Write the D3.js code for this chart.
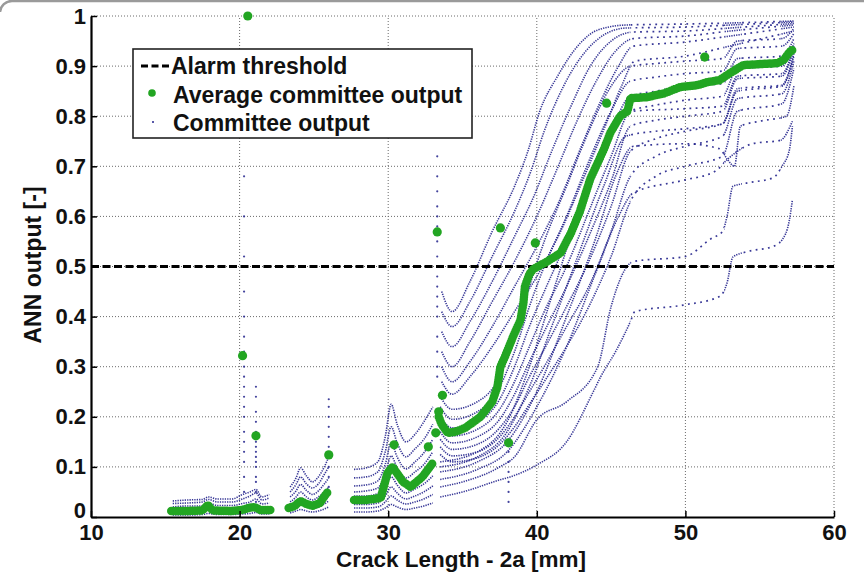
<!DOCTYPE html>
<html>
<head>
<meta charset="utf-8">
<script src="https://cdn.jsdelivr.net/npm/d3@7"></script>
<style>
  body { margin: 0; background: #fff; }
  svg text { font-family: "Liberation Sans", Arial, Helvetica, sans-serif; font-weight: bold; fill: #111; }
</style>
</head>
<body>
<svg id="chart" width="864" height="572"></svg>
<script>
// ---- axis ticks ----
const xTicks = [10, 20, 30, 40, 50, 60];
const yTicks = [0, 0.1, 0.2, 0.3, 0.4, 0.5, 0.6, 0.7, 0.8, 0.9, 1];
const yTickLabels = ["0", "0.1", "0.2", "0.3", "0.4", "0.5", "0.6", "0.7", "0.8", "0.9", "1"];
const alarmThreshold = 0.5;

// ---- committee output, first crack-length block (shared x, one row per network) ----
const xA = [15.5, 16.5, 17.5, 17.9, 18.5, 19.5, 20.2, 20.7, 21.1, 21.5, 22.0];
const committeeA = [
  [0.004, 0.004, 0.005, 0.007, 0.005, 0.005, 0.006, 0.007, 0.009, 0.006, 0.006],
  [0.009, 0.009, 0.010, 0.014, 0.010, 0.010, 0.012, 0.013, 0.016, 0.011, 0.012],
  [0.014, 0.015, 0.016, 0.021, 0.016, 0.016, 0.019, 0.021, 0.025, 0.018, 0.020],
  [0.020, 0.022, 0.022, 0.028, 0.023, 0.023, 0.027, 0.030, 0.036, 0.026, 0.028],
  [0.027, 0.028, 0.030, 0.035, 0.030, 0.030, 0.036, 0.042, 0.048, 0.034, 0.038],
  [0.032, 0.034, 0.035, 0.040, 0.036, 0.036, 0.045, 0.050, 0.055, 0.040, 0.045]
];

// ---- second block ----
const xB = [23.4, 23.8, 24.1, 24.5, 24.9, 25.3, 25.7, 26.0];
const committeeB = [
  [0.008, 0.012, 0.015, 0.012, 0.010, 0.012, 0.016, 0.020],
  [0.015, 0.020, 0.026, 0.020, 0.017, 0.020, 0.026, 0.032],
  [0.022, 0.030, 0.038, 0.030, 0.025, 0.030, 0.038, 0.046],
  [0.030, 0.040, 0.050, 0.040, 0.034, 0.040, 0.050, 0.060],
  [0.040, 0.052, 0.065, 0.053, 0.045, 0.052, 0.066, 0.078],
  [0.050, 0.065, 0.080, 0.066, 0.058, 0.066, 0.085, 0.100],
  [0.060, 0.078, 0.098, 0.082, 0.070, 0.080, 0.100, 0.120]
];

// ---- third block ----
const xC = [27.7, 28.5, 29.3, 29.8, 30.2, 30.6, 31.2, 31.8, 32.4, 33.0];
const committeeC = [
  [0.010, 0.010, 0.012, 0.018, 0.025, 0.020, 0.015, 0.018, 0.022, 0.028],
  [0.018, 0.018, 0.020, 0.030, 0.042, 0.034, 0.026, 0.030, 0.036, 0.045],
  [0.025, 0.025, 0.028, 0.042, 0.060, 0.048, 0.036, 0.042, 0.050, 0.062],
  [0.033, 0.033, 0.037, 0.056, 0.080, 0.064, 0.048, 0.056, 0.066, 0.082],
  [0.042, 0.042, 0.047, 0.070, 0.100, 0.080, 0.062, 0.072, 0.085, 0.105],
  [0.050, 0.052, 0.058, 0.086, 0.122, 0.098, 0.078, 0.090, 0.105, 0.130],
  [0.062, 0.064, 0.072, 0.105, 0.148, 0.120, 0.096, 0.110, 0.128, 0.155],
  [0.078, 0.080, 0.090, 0.130, 0.180, 0.148, 0.120, 0.136, 0.155, 0.185],
  [0.095, 0.098, 0.110, 0.160, 0.225, 0.185, 0.150, 0.165, 0.190, 0.220]
];

// ---- main block: each network's output as [crack length, output] ----
const committeeD = [
  [[33.6,0.45],[34.3,0.41],[35.5,0.47],[37,0.57],[38.5,0.66],[39.4,0.73],[40.2,0.81],[41.4,0.88],[42.9,0.945],[44.1,0.972],[46,0.982],[50,0.984],[53,0.986],[57.3,0.99]],
  [[33.6,0.41],[34.3,0.38],[35.5,0.43],[37,0.52],[38.5,0.61],[39.6,0.69],[40.5,0.77],[41.8,0.86],[43.3,0.93],[44.5,0.962],[46,0.976],[50,0.978],[53,0.982],[57.3,0.988]],
  [[33.6,0.37],[34.3,0.34],[35.5,0.39],[37,0.47],[38.5,0.56],[39.8,0.64],[41,0.73],[42.3,0.82],[43.6,0.9],[45,0.95],[46.5,0.968],[50,0.97],[53,0.976],[57.3,0.985]],
  [[33.6,0.33],[34.3,0.30],[35.5,0.35],[37,0.43],[38.5,0.51],[40,0.60],[41.3,0.69],[42.7,0.79],[44,0.87],[45.3,0.93],[46.5,0.955],[50,0.96],[53,0.97],[57.3,0.982]],
  [[33.6,0.30],[34.3,0.27],[35.5,0.31],[37,0.38],[38.5,0.46],[40,0.54],[41.5,0.63],[43,0.74],[44.3,0.83],[45.5,0.9],[46.5,0.94],[50,0.948],[53,0.96],[57.3,0.978]],
  [[33.6,0.27],[34.3,0.245],[35.5,0.28],[37,0.34],[38.5,0.41],[40,0.48],[41.6,0.57],[43.2,0.68],[44.6,0.78],[45.7,0.86],[46.6,0.91],[50,0.92],[53,0.94],[57.3,0.97]],
  [[33.5,0.24],[34.3,0.215],[36,0.23],[37.5,0.28],[38.5,0.36],[39.5,0.46],[40.5,0.55],[42,0.66],[43.5,0.77],[45,0.86],[46.3,0.9],[48,0.905],[50,0.91],[52.5,0.915],[53.5,0.95],[56.5,0.955],[57.3,0.975]],
  [[33.5,0.22],[34.3,0.195],[36,0.21],[37.5,0.26],[38.5,0.33],[39.5,0.42],[40.5,0.5],[42,0.6],[43.5,0.71],[45,0.81],[46.3,0.87],[48,0.878],[50,0.885],[52.5,0.89],[53.5,0.935],[56.5,0.94],[57.3,0.965]],
  [[33.5,0.20],[34.3,0.178],[36,0.19],[37.5,0.235],[38.5,0.3],[39.5,0.38],[40.5,0.45],[42,0.55],[43.5,0.66],[45,0.77],[46.3,0.84],[48,0.85],[50,0.86],[52.5,0.865],[53.5,0.915],[56.5,0.92],[57.3,0.955]],
  [[33.5,0.185],[34.3,0.162],[36,0.175],[37.5,0.215],[38.5,0.27],[39.5,0.34],[40.5,0.41],[42,0.5],[43.5,0.61],[45,0.72],[46.3,0.81],[48,0.822],[50,0.832],[52.5,0.84],[53.5,0.895],[56.5,0.9],[57.3,0.945]],
  [[33.5,0.17],[34.3,0.148],[36,0.16],[37.5,0.195],[38.5,0.245],[39.5,0.31],[40.5,0.37],[42,0.46],[43.5,0.56],[45,0.67],[46.3,0.78],[48,0.792],[50,0.8],[52.5,0.81],[53.5,0.875],[56.5,0.88],[57.3,0.935]],
  [[33.5,0.155],[34.3,0.135],[36,0.145],[37.5,0.178],[38.5,0.22],[39.5,0.28],[40.5,0.335],[42,0.42],[43.5,0.51],[45,0.62],[46.3,0.73],[48,0.755],[50,0.77],[52.5,0.785],[53.5,0.855],[56.5,0.862],[57.3,0.925]],
  [[33.5,0.14],[34.3,0.122],[36,0.13],[37.5,0.16],[38.5,0.2],[39.5,0.25],[40.5,0.3],[42,0.38],[43.5,0.46],[45,0.57],[46.3,0.68],[48,0.72],[50,0.74],[52.5,0.76],[53.5,0.835],[56.5,0.845],[57.3,0.91]],
  [[33.5,0.125],[34.3,0.11],[36,0.118],[37.5,0.145],[38.5,0.18],[39.5,0.225],[40.5,0.27],[42,0.34],[43.5,0.42],[45,0.52],[46.3,0.63],[48,0.68],[50,0.7],[52.5,0.72],[53.5,0.81],[56.5,0.825],[57.3,0.895]],
  [[33.5,0.04],[35,0.05],[37.5,0.074],[38.2,0.08],[40,0.104],[42,0.15],[43.8,0.25],[44.3,0.28],[45.3,0.33],[46.3,0.39],[46.6,0.41],[49.85,0.423],[52.3,0.44],[52.8,0.467],[53.2,0.519],[54.2,0.53],[55.9,0.54],[56.5,0.553],[57,0.593],[57.2,0.633]],
  [[33.5,0.06],[35,0.07],[37.5,0.1],[38.5,0.12],[40,0.194],[42,0.23],[44.1,0.3],[45,0.42],[46.5,0.51],[50,0.52],[51.7,0.555],[52.5,0.57],[52.8,0.6],[53.2,0.66],[54.2,0.667],[55.9,0.677],[56.5,0.7],[57,0.733],[57.2,0.78]],
  [[33.5,0.075],[36,0.095],[38,0.13],[40,0.22],[42,0.34],[44,0.49],[45.5,0.6],[46.5,0.647],[49.85,0.672],[52,0.69],[52.8,0.713],[53.5,0.73],[54.5,0.745],[56.4,0.752],[57.2,0.79]],
  [[33.5,0.09],[36,0.11],[38,0.15],[40,0.25],[42,0.4],[44,0.56],[45.3,0.68],[46.5,0.74],[50,0.745],[52.3,0.735],[52.8,0.715],[53.3,0.7],[53.7,0.78],[55,0.79],[56.8,0.8],[57.3,0.86]],
  [[33.5,0.1],[36,0.12],[38,0.17],[39.5,0.26],[41,0.38],[43,0.54],[44.5,0.66],[46,0.76],[48,0.77],[50,0.775],[52.5,0.785],[53.5,0.85],[56.5,0.86],[57.3,0.92]],
  [[33.5,0.11],[36,0.13],[38,0.19],[39.5,0.3],[41,0.44],[42.5,0.58],[44,0.7],[45.5,0.79],[46.5,0.81],[50,0.815],[52.5,0.82],[53.5,0.88],[56.5,0.885],[57.3,0.94]]
];

// ---- outputs scattered at single crack lengths ----
const spikeX = [20.3, 21.1, 26.0, 33.3, 38.1];
const spikeY = [
  [0.05, 0.08, 0.11, 0.13, 0.15, 0.17, 0.2, 0.22, 0.24, 0.26, 0.28, 0.3, 0.33, 0.36, 0.4, 0.45, 0.52, 0.6, 0.68],
  [0.03, 0.05, 0.07, 0.08, 0.1, 0.11, 0.12, 0.13, 0.14, 0.15, 0.17, 0.19, 0.21, 0.24, 0.26],
  [0.06, 0.08, 0.1, 0.12, 0.14, 0.16, 0.18, 0.2, 0.22, 0.235],
  [0.28, 0.3, 0.33, 0.36, 0.4, 0.42, 0.44, 0.46, 0.48, 0.5, 0.52, 0.55, 0.58, 0.6, 0.62, 0.65, 0.68, 0.72, 0.76],
  [0.03, 0.05, 0.07, 0.09, 0.11, 0.13, 0.155]
];

// ---- average committee output ----
const avgA = [[15.4,0.012],[16.5,0.012],[17.5,0.013],[17.85,0.024],[18.2,0.013],[19.5,0.012],[20.2,0.014],[20.6,0.018],[21.0,0.02],[21.4,0.014],[22.2,0.014]];
const avgB = [[23.3,0.018],[23.7,0.022],[24.1,0.032],[24.5,0.026],[24.9,0.022],[25.4,0.028],[25.8,0.045],[26.0,0.052]];
const avgC = [[27.7,0.034],[28.5,0.034],[29.5,0.038],[29.95,0.088],[30.3,0.1],[31.0,0.07],[31.5,0.06],[32.3,0.08],[33.05,0.11]];
const avgD = [[33.4,0.2],[33.6,0.185],[34.0,0.168],[34.5,0.17],[35.2,0.178],[36.2,0.2],[37.0,0.23],[37.35,0.26],[37.55,0.3],[37.9,0.323],[38.4,0.36],[38.9,0.393],[39.1,0.427],[39.2,0.46],[39.5,0.485],[39.77,0.495],[40.7,0.51],[41.6,0.527],[42.3,0.567],[42.9,0.61],[43.6,0.675],[44.5,0.733],[44.95,0.767],[45.6,0.8],[46.1,0.81],[46.3,0.836],[47.4,0.838],[48.5,0.845],[49.65,0.858],[50.8,0.862],[51.5,0.868],[52.3,0.872],[53.0,0.886],[53.9,0.902],[55.0,0.904],[56.2,0.906],[56.6,0.912],[57.0,0.928],[57.2,0.932]];
const avgOutliers = [[20.55,1.0],[20.2,0.322],[21.1,0.162],[26.0,0.124],[30.4,0.144],[32.7,0.14],[33.2,0.168],[33.4,0.21],[33.65,0.243],[33.3,0.569],[37.55,0.577],[39.9,0.547],[38.1,0.148],[44.7,0.826],[51.3,0.918]];

// ---- drawing ----
const svg = d3.select("#chart");
const W = 864, H = 572;
const x = d3.scaleLinear().domain([10, 60]).range([91, 834]);
const y = d3.scaleLinear().domain([0, 1]).range([517, 16]);

const GREEN = "#22a522";
const NAVY = "#22228c";

// frame edge along the top
svg.append("path")
  .attr("d", `M0,12 A12,12 0 0 1 12,1 L${W},1`)
  .attr("fill", "none").attr("stroke", "#9a9a9a").attr("stroke-width", 2.5);

// dotted grid
const grid = svg.append("g").attr("stroke", "#6a6a6a").attr("stroke-width", 1).attr("stroke-dasharray", "1 2");
grid.selectAll("line.gx").data(xTicks.slice(1)).join("line")
  .attr("x1", d => x(d)).attr("x2", d => x(d)).attr("y1", y(0)).attr("y2", y(1));
grid.selectAll("line.gy").data(yTicks.slice(1)).join("line")
  .attr("x1", x(10)).attr("x2", x(60)).attr("y1", d => y(d)).attr("y2", d => y(d));

// clip regions: where the samples are tightly packed vs. spread out along x
const denseZones = [[10, 46.3], [52.6, 53.8], [56.4, 60]];
const sparseZones = [[46.3, 52.6], [53.8, 56.4]];
const defs = svg.append("defs");
[["dense", denseZones], ["sparse", sparseZones]].forEach(([id, zones]) => {
  defs.append("clipPath").attr("id", id).selectAll("rect").data(zones).join("rect")
    .attr("x", d => x(d[0])).attr("width", d => x(d[1]) - x(d[0]))
    .attr("y", 0).attr("height", H);
});

const line = d3.line().x(d => x(d[0])).y(d => y(d[1])).curve(d3.curveMonotoneX);

const committeeCurves = []
  .concat(committeeA.map(r => r.map((v, i) => [xA[i], v])))
  .concat(committeeB.map(r => r.map((v, i) => [xB[i], v])))
  .concat(committeeC.map(r => r.map((v, i) => [xC[i], v])))
  .concat(committeeD);

[["dense", "1.3 1.1", 1.6], ["sparse", "1.8 4.4", 1.7]].forEach(([clip, dash, sw]) => {
  svg.append("g").attr("clip-path", `url(#${clip})`)
    .selectAll("path").data(committeeCurves).join("path")
    .attr("d", line)
    .attr("fill", "none").attr("stroke", NAVY).attr("stroke-width", sw)
    .attr("stroke-dasharray", dash).attr("opacity", 0.9);
});

// single-crack-length scatter
const spikePts = spikeX.flatMap((sx, i) => spikeY[i].map(v => [sx, v]));
svg.append("g").selectAll("circle").data(spikePts).join("circle")
  .attr("cx", d => x(d[0])).attr("cy", d => y(d[1])).attr("r", 1.1)
  .attr("fill", NAVY).attr("opacity", 0.85);

// alarm threshold
svg.append("line")
  .attr("x1", x(10)).attr("x2", x(60)).attr("y1", y(alarmThreshold)).attr("y2", y(alarmThreshold))
  .attr("stroke", "#000").attr("stroke-width", 3).attr("stroke-dasharray", "8 3.5");

// average committee output: closely spaced markers along each block
svg.append("g").selectAll("path").data([avgA, avgB, avgC, avgD]).join("path")
  .attr("d", d3.line().x(d => x(d[0])).y(d => y(d[1])))
  .attr("fill", "none").attr("stroke", GREEN).attr("stroke-width", 8.5)
  .attr("stroke-linecap", "round").attr("stroke-linejoin", "round")
  .attr("stroke-dasharray", "0 2.5");
svg.append("g").selectAll("circle").data(avgOutliers).join("circle")
  .attr("cx", d => x(d[0])).attr("cy", d => y(d[1])).attr("r", 4.6).attr("fill", GREEN);

// axes
const xAxis = svg.append("g").attr("transform", `translate(0,${y(0)})`)
  .call(d3.axisBottom(x).tickValues(xTicks).tickSize(-6).tickSizeOuter(0).tickPadding(9).tickFormat(d3.format("d")));
const yAxis = svg.append("g").attr("transform", `translate(${x(10)},0)`)
  .call(d3.axisLeft(y).tickValues(yTicks).tickSize(-6).tickSizeOuter(0).tickPadding(5).tickFormat((d, i) => yTickLabels[i]));
[xAxis, yAxis].forEach(g => {
  g.select(".domain").attr("stroke", "#000").attr("stroke-width", 2.2);
  g.selectAll(".tick line").attr("stroke", "#000").attr("stroke-width", 1.5);
  g.selectAll(".tick text").attr("font-size", 22).attr("font-family", null).attr("fill", "#111");
});
xAxis.selectAll(".tick text").attr("dy", "0.62em");
// lift the zero label clear of the "10" underneath it
yAxis.selectAll(".tick text").filter(d => d === 0).attr("dy", "0.02em");

// axis titles
svg.append("text").attr("x", 461).attr("y", 567).attr("text-anchor", "middle")
  .attr("font-size", 22.5).text("Crack Length - 2a [mm]");
svg.append("text").attr("transform", "translate(41,265) rotate(-90)").attr("text-anchor", "middle")
  .attr("font-size", 23).text("ANN output [-]");

// legend
const lg = svg.append("g");
lg.append("rect").attr("x", 133).attr("y", 49).attr("width", 339).attr("height", 89)
  .attr("fill", "#fff").attr("stroke", "#222").attr("stroke-width", 1.6);
lg.append("line").attr("x1", 141).attr("x2", 171).attr("y1", 66).attr("y2", 66)
  .attr("stroke", "#000").attr("stroke-width", 3).attr("stroke-dasharray", "7 3.5");
lg.append("circle").attr("cx", 152).attr("cy", 93).attr("r", 3.8).attr("fill", GREEN);
lg.append("circle").attr("cx", 153).attr("cy", 122).attr("r", 1).attr("fill", NAVY);
const legendLabels = ["Alarm threshold", "Average committee output", "Committee output"];
lg.selectAll("text").data(legendLabels).join("text")
  .attr("x", (d, i) => i === 0 ? 171 : 173).attr("y", (d, i) => 74 + i * 28.5)
  .attr("font-size", 23).text(d => d);
</script>
</body>
</html>
